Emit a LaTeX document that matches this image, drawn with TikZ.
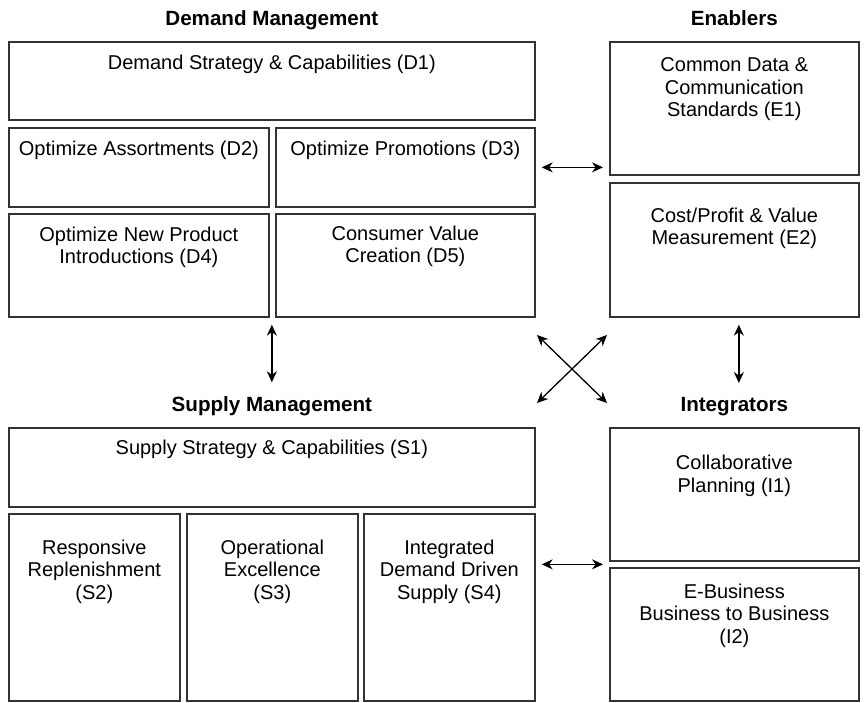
\documentclass[tikz,border=0pt]{standalone}
\usepackage{fontspec}
\setmainfont{Liberation Sans}
\usepackage{tikz}
\usetikzlibrary{positioning,calc,arrows.meta}

\begin{document}
\begin{tikzpicture}[x=1pt,y=-1pt]
\tikzstyle{box}=[rectangle, draw=black!80, line width=1.7pt, anchor=north west, inner sep=0pt]
\tikzstyle{txt}=[align=center, inner sep=0pt, font=\fontsize{20}{22.5}\selectfont]
\tikzstyle{head}=[inner sep=0pt, text depth=0pt, font=\fontsize{20.6}{22.5}\selectfont\bfseries]
\tikzstyle{connect}=[{Stealth[length=11pt,width=10pt]}-{Stealth[length=11pt,width=10pt]}, line width=1.3pt]
\useasboundingbox (0,0) rectangle (865,702);

	\node[box, minimum width=526pt, minimum height=78pt] (d1) at (8,41) {};
	\node[box, minimum width=260pt, minimum height=79pt] (d2) at (8,127) {};
	\node[box, minimum width=259pt, minimum height=79pt] (d3) at (275,127) {};
	\node[box, minimum width=260pt, minimum height=103pt] (d4) at (8,213) {};
	\node[box, minimum width=259pt, minimum height=103pt] (d5) at (275,213) {};
	\node[box, minimum width=249pt, minimum height=133pt] (e1) at (609,41) {};
	\node[box, minimum width=249pt, minimum height=134pt] (e2) at (609,182) {};
	\node[box, minimum width=526pt, minimum height=79pt] (s1) at (8,427) {};
	\node[box, minimum width=171pt, minimum height=187pt] (s2) at (8,513) {};
	\node[box, minimum width=171pt, minimum height=187pt] (s3) at (186,513) {};
	\node[box, minimum width=171pt, minimum height=187pt] (s4) at (363,513) {};
	\node[box, minimum width=249pt, minimum height=133pt] (i1) at (609,427) {};
	\node[box, minimum width=249pt, minimum height=133pt] (i2) at (609,567) {};

	\node[head, above=15.8pt of d1.north] (hdem) {Demand Management};
	\node[head, above=15.8pt of e1.north] (hen) {Enablers};
	\node[head, above=15.8pt of s1.north] (hsup) {Supply Management};
	\node[head, above=15.8pt of i1.north] (hint) {Integrators};

	\node[txt, below=13.5pt of d1.north] (d1t) {Demand Strategy \& Capabilities (D1)};
	\node[txt, below=13.5pt of d2.north] (d2t) {Optimize Assortments (D2)};
	\node[txt, below=13.5pt of d3.north] (d3t) {Optimize Promotions (D3)};
	\node[txt, below=13.5pt of d4.north] (d4t) {Optimize New Product\\Introductions (D4)};
	\node[txt, below=12.5pt of d5.north] (d5t) {Consumer Value\\Creation (D5)};
	\node[txt, below=16.5pt of e1.north] (e1t) {Common Data \&\\Communication\\Standards (E1)};
	\node[txt, below=25.5pt of e2.north] (e2t) {Cost/Profit \& Value\\Measurement (E2)};
	\node[txt, below=13pt of s1.north] (s1t) {Supply Strategy \& Capabilities (S1)};
	\node[txt, below=26.5pt of s2.north] (s2t) {Responsive\\Replenishment\\(S2)};
	\node[txt, below=26.5pt of s3.north] (s3t) {Operational\\Excellence\\(S3)};
	\node[txt, below=26.5pt of s4.north] (s4t) {Integrated\\Demand Driven\\Supply (S4)};
	\node[txt, below=28pt of i1.north] (i1t) {Collaborative\\Planning (I1)};
	\node[txt, below=16.5pt of i2.north] (i2t) {E-Business\\Business to Business\\(I2)};

	\coordinate (xa) at (537,335);
	\coordinate (xb) at (607,403);
	\coordinate (xc) at (607,335);
	\coordinate (xd) at (537,403);
	\coordinate (gap) at ($(i1.south west)!.5!(i2.north west)$);

	\draw[connect, shorten <=6pt, shorten >=6pt] (d3.east) -- (d3.east -| e1.west);
	\draw[connect, shorten <=7pt, shorten >=13.6pt] (hsup.north |- d4.south) -- (hsup.north);
	\draw[connect, shorten <=7pt, shorten >=13.6pt] ([xshift=4.5pt]e2.south) -- ([xshift=4.5pt]e2.south |- hint.north);
	\draw[connect] (xa) -- (xb);
	\draw[connect] (xc) -- (xd);
	\draw[connect, shorten <=6pt, shorten >=6pt] (gap -| s4.east) -- (gap);
\end{tikzpicture}
\end{document}
